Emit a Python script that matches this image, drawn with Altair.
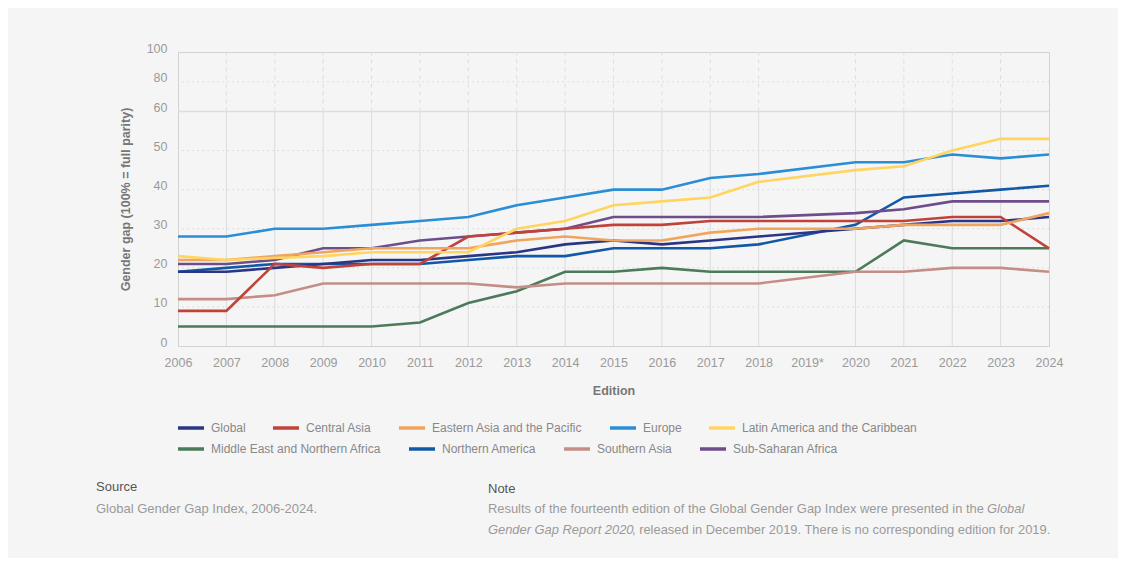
import altair as alt
import pandas as pd

# ---------------- data ----------------
years = [2006, 2007, 2008, 2009, 2010, 2011, 2012, 2013, 2014, 2015, 2016, 2017, 2018,
         2020, 2021, 2022, 2023, 2024]
tick_years = list(range(2006, 2025))
series_names = ["Global", "Central Asia", "Eastern Asia and the Pacific", "Europe",
                "Latin America and the Caribbean", "Middle East and Northern Africa",
                "Northern America", "Southern Asia", "Sub-Saharan Africa"]
series_colors = ["#2b3585", "#c0433a", "#f0a55e", "#2a8ed6", "#ffd45f",
                 "#4b7b5a", "#1158a6", "#c48e87", "#6e4d8b"]

global_gap = [19, 19, 20, 21, 22, 22, 23, 24, 26, 27, 26, 27, 28, 30, 31, 32, 32, 33]
central_asia = [9, 9, 21, 20, 21, 21, 28, 29, 30, 31, 31, 32, 32, 32, 32, 33, 33, 25]
eastern_asia = [22, 22, 23, 24, 25, 25, 25, 27, 28, 27, 27, 29, 30, 30, 31, 31, 31, 34]
europe = [28, 28, 30, 30, 31, 32, 33, 36, 38, 40, 40, 43, 44, 47, 47, 49, 48, 49]
latin_america = [23, 22, 22.5, 23, 24, 24, 24, 30, 32, 36, 37, 38, 42, 45, 46, 50, 53, 53]
mena = [5, 5, 5, 5, 5, 6, 11, 14, 19, 19, 20, 19, 19, 19, 27, 25, 25, 25]
northern_america = [19, 20, 21, 21, 21, 21, 22, 23, 23, 25, 25, 25, 26, 31, 38, 39, 40, 41]
southern_asia = [12, 12, 13, 16, 16, 16, 16, 15, 16, 16, 16, 16, 16, 19, 19, 20, 20, 19]
sub_saharan = [21, 21, 22, 25, 25, 27, 28, 29, 30, 33, 33, 33, 33, 34, 35, 37, 37, 37]

series_values = [global_gap, central_asia, eastern_asia, europe, latin_america,
                 mena, northern_america, southern_asia, sub_saharan]

y_ticks = [0, 10, 20, 30, 40, 50, 60, 80, 100]
dotted_levels = [10, 20, 30, 40, 50, 80]
solid_levels = [60]
grid_years = [2007, 2008, 2009, 2010, 2011, 2012, 2013, 2014, 2015, 2016, 2017, 2018,
              2020, 2021, 2022, 2023]

source_head = "Source"
source_text = "Global Gender Gap Index, 2006-2024."
note_head = "Note"
note_l1 = "Results of the fourteenth edition of the Global Gender Gap Index were presented in the"
note_l1_it = "Global"
note_l2_it = "Gender Gap Report 2020"
note_l2 = ", released in December 2019. There is no corresponding edition for 2019."

rows = []
for name, vals in zip(series_names, series_values):
    for yr, v in zip(years, vals):
        rows.append({"Edition": yr, "Region": name, "Gap": v})
df = pd.DataFrame(rows)

# legend is shown in two rows: first five series, then the remaining four
row1_names, row2_names = series_names[:5], series_names[5:]
row1_colors, row2_colors = series_colors[:5], series_colors[5:]
df1 = df[df["Region"].isin(row1_names)]
df2 = df[df["Region"].isin(row2_names)]

# ---------------- layout ----------------
W, H = 871, 294
FONT = "Liberation Sans"

x_scale = alt.Scale(domain=[2006, 2024], nice=False, zero=False)
y_scale = alt.Scale(domain=[0, 60, 100], range=[H, 59.5, 0], nice=False, zero=False)

x_axis = alt.Axis(values=tick_years, format="d",
                  labelExpr="datum.value == 2019 ? '2019*' : datum.label",
                  grid=False, ticks=False, tickSize=0, domain=False, labelFlush=False,
                  labelColor="#9a9a9a", labelFontSize=12.5, labelPadding=10,
                  title="Edition", titleColor="#777777", titleFontSize=12.5,
                  titleFontWeight="bold", titlePadding=16)
y_axis = alt.Axis(values=y_ticks, grid=False, ticks=False, tickSize=0, domain=False,
                  labelColor="#9a9a9a", labelFontSize=12.5, labelPadding=11,
                  labelBaseline="alphabetic",
                  title="Gender gap (100% = full parity)", titleColor="#777777",
                  titleFontSize=12.5, titleFontWeight="bold", titlePadding=14)

X = alt.X("Edition:Q", scale=x_scale, axis=x_axis)
Y = alt.Y("Gap:Q", scale=y_scale, axis=y_axis)

# grid: vertical solid (0-60) and dashed (60-100)
vdf = pd.DataFrame({"Edition": grid_years, "lo": 0, "mid": 60, "hi": 100})
v_solid = alt.Chart(vdf).mark_rule(color="#dcdcdc", strokeWidth=1).encode(
    x=X, y=alt.Y("lo:Q", scale=y_scale, axis=y_axis), y2="mid:Q")
v_dash = alt.Chart(vdf).mark_rule(color="#dddddd", strokeWidth=1, strokeDash=[4, 4]).encode(
    x=X, y=alt.Y("mid:Q", scale=y_scale, axis=y_axis), y2="hi:Q")

h_dot = alt.Chart(pd.DataFrame({"Gap": dotted_levels})).mark_rule(
    color="#d6d6d6", strokeWidth=1, strokeDash=[1.5, 3.5]).encode(y=Y)
h_solid = alt.Chart(pd.DataFrame({"Gap": solid_levels})).mark_rule(
    color="#dedede", strokeWidth=1.5).encode(y=Y)


def legend_at(ly):
    return alt.Legend(title=None, orient="none", legendX=-2, legendY=ly,
                      direction="horizontal", columnPadding=20,
                      symbolType="stroke", symbolSize=676,
                      symbolStrokeWidth=3.5, labelFontSize=12,
                      labelColor="#888888", labelFont=FONT,
                      labelOffset=5, labelLimit=400)


line_mark = dict(strokeWidth=2.6, strokeCap="butt", strokeJoin="miter")

lines1 = alt.Chart(df1).mark_line(**line_mark).encode(
    x=X, y=Y,
    color=alt.Color("Region:N", scale=alt.Scale(domain=row1_names, range=row1_colors),
                    sort=row1_names, legend=legend_at(361)),
    detail="Region:N",
)
lines2 = alt.Chart(df2).mark_line(**line_mark).encode(
    x=X, y=Y,
    stroke=alt.Stroke("Region:N", scale=alt.Scale(domain=row2_names, range=row2_colors),
                      sort=row2_names, legend=legend_at(382)),
    detail="Region:N",
)


def txt(s, x, y, color, size=13, style="normal"):
    return alt.Chart(pd.DataFrame({"t": [s]})).mark_text(
        align="left", baseline="middle", fontSize=size, color=color,
        fontStyle=style, font=FONT).encode(
        text="t:N", x=alt.value(x), y=alt.value(y))


texts = [
    txt(source_head, -82, 435, "#555555", 13),
    txt(source_text, -82, 457, "#9a9a9a", 13),
    txt(note_head, 310, 437, "#555555", 13),
    txt(note_l1, 310, 457, "#9a9a9a", 12.9),
    txt(note_l1_it, 809, 457, "#9a9a9a", 12.9, "italic"),
    txt(note_l2_it, 310, 478, "#9a9a9a", 12.9, "italic"),
    txt(note_l2, 454, 478, "#9a9a9a", 12.9),
]

chart = alt.layer(v_solid, v_dash, h_dot, h_solid, lines2, lines1, *texts).properties(
    width=W, height=H,
    background="#f5f5f5",
    padding={"left": 170, "top": 44, "right": 69, "bottom": 212},
    autosize=alt.AutoSizeParams(type="none"),
).configure(font=FONT).configure_view(stroke="#d2d2d2", strokeWidth=1)

chart.save("out.html", embed_options={"renderer": "svg", "actions": False})
